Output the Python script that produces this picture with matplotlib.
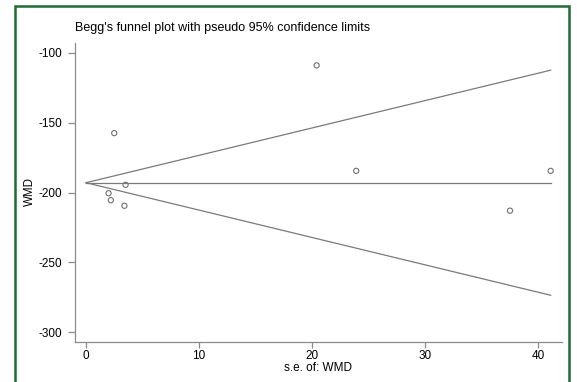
import numpy as np
import matplotlib.pyplot as plt
from matplotlib.patches import Rectangle

plt.rcParams['font.family'] = ['Liberation Sans', 'DejaVu Sans']
plt.rcParams['axes.unicode_minus'] = False

# study standard errors and weighted mean differences
se = [2.5, 3.5, 2.0, 2.2, 3.4, 20.4, 23.9, 41.1, 37.5]
wmd = [-157.5, -194.5, -200.5, -205.5, -209.5, -109, -184.5, -184.5, -213]
pooled = -193.0
se_max = 41.1

fig = plt.figure(figsize=(5.77, 3.82), dpi=100)
ax = fig.add_axes([75/577, 40/382, 487/577, 299/382])

# pseudo 95% confidence limits
s = np.array([0, se_max])
ax.plot(s, pooled + 1.96*s, color='#7a7a7a', lw=0.9)
ax.plot(s, pooled - 1.96*s, color='#7a7a7a', lw=0.9)
ax.plot(s, [pooled, pooled], color='#7a7a7a', lw=0.9)
ax.scatter(se, wmd, s=14, facecolors='none', edgecolors='#707070', linewidths=0.8, zorder=3)

ax.set_xlim(-0.97, 42.1)
ax.set_ylim(-307, -93)
ax.set_xticks([0, 10, 20, 30, 40])
ax.set_yticks([-100, -150, -200, -250, -300])
for sp in ['top', 'right']:
    ax.spines[sp].set_visible(False)
for sp in ['left', 'bottom']:
    ax.spines[sp].set_color('#8a8a8a')
    ax.spines[sp].set_linewidth(0.9)
ax.tick_params(colors='#8a8a8a', labelcolor='black', labelsize=8.5, width=0.9)
ax.tick_params(axis='y', length=5, pad=4.5)
ax.tick_params(axis='x', length=4, pad=1.5)

fig.text(75/577, 1 - 28/382, "Begg's funnel plot with pseudo 95% confidence limits",
         fontsize=9, va='center', ha='left')
fig.text(30/577, 1 - 192/382, 'WMD', rotation=90, fontsize=8.3, va='center', ha='center')
fig.text(318/577, 1 - 368/382, 's.e. of: WMD', fontsize=8.5, va='center', ha='center')

# outer frame
fig.patches.append(Rectangle((15/577, -0.05), 554/577, 1.05 - 6/382, transform=fig.transFigure,
                             fill=False, edgecolor='#1e6b35', lw=1.8))

fig.savefig('out.png', dpi=100)
